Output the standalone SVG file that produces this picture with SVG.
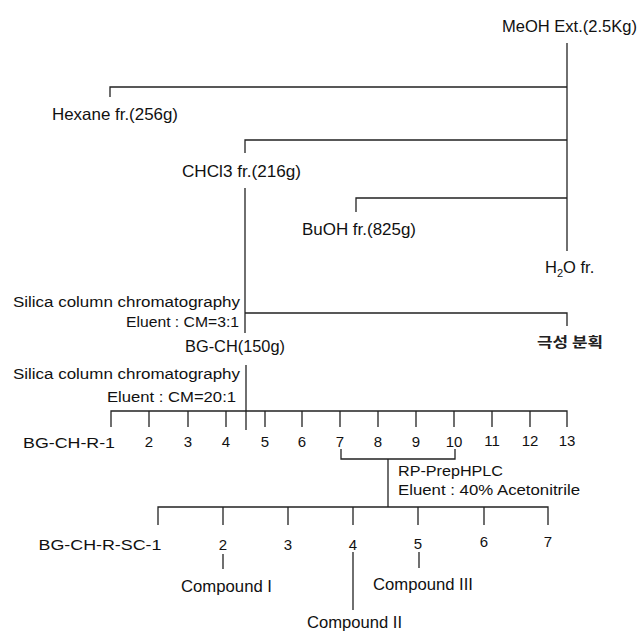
<svg xmlns="http://www.w3.org/2000/svg" width="639" height="635" viewBox="0 0 639 635">
<style>
  .t { font-family: "Liberation Sans", Arial, sans-serif; fill: #111; }
  .l { font-size: 16.5px; }
  .m { font-size: 14px; }
  .n { font-size: 15px; text-anchor: middle; }
  .k { font-family: "Noto Sans CJK KR", sans-serif; font-size: 14px; font-weight: bold; fill: #222; }
  .c { fill: none; stroke: #222; stroke-width: 1.3; }
</style>
<rect width="639" height="635" fill="#fff"/>
<g id="connectors" class="c">
  <path d="M567,43 V251"/>
  <path d="M110,97 V87 H567"/>
  <path d="M245,153 V140 H567"/>
  <path d="M245,188 V333"/>
  <path d="M356,212 V198 H567"/>
  <path d="M245,313 H567 V326"/>
  <path d="M246,365 V430"/>
  <path d="M111,427 V411 H567 V427"/>
  <path d="M149,411 V427 M188,411 V427 M226,411 V427 M265,411 V427 M302,411 V427 M340,411 V427 M378,411 V427 M416,411 V427 M454,411 V427 M492,411 V427 M530,411 V427"/>
  <path d="M341,449 V459 H455 V449"/>
  <path d="M388,459 V507"/>
  <path d="M158,525 V507 H548 V525"/>
  <path d="M223,507 V525 M288,507 V525 M353,507 V525 M418,507 V525 M484,507 V525"/>
  <path d="M223,554 V569"/>
  <path d="M353,552 V610"/>
  <path d="M419,552 V568"/>
</g>
<g id="meoh"><text class="t l" x="502" y="32" textLength="135" lengthAdjust="spacingAndGlyphs">MeOH Ext.(2.5Kg)</text></g>
<g id="hexane"><text class="t l" x="52" y="120" textLength="126" lengthAdjust="spacingAndGlyphs">Hexane fr.(256g)</text></g>
<g id="chcl3"><text class="t l" x="182" y="177" textLength="119" lengthAdjust="spacingAndGlyphs">CHCl3 fr.(216g)</text></g>
<g id="buoh"><text class="t l" x="302" y="235" textLength="114" lengthAdjust="spacingAndGlyphs">BuOH fr.(825g)</text></g>
<g id="h2o"><text class="t l" x="545" y="273">H<tspan font-size="11" dy="4">2</tspan><tspan dy="-4">O fr.</tspan></text></g>
<g id="silica1">
  <text class="t m" x="13" y="307" textLength="227" lengthAdjust="spacingAndGlyphs">Silica column chromatography</text>
  <text class="t m" x="126" y="327" textLength="113" lengthAdjust="spacingAndGlyphs">Eluent : CM=3:1</text>
</g>
<g id="bgch"><text class="t l" x="185" y="352" textLength="100" lengthAdjust="spacingAndGlyphs">BG-CH(150g)</text></g>
<g id="polar"><text class="k" x="537" y="347" textLength="66" lengthAdjust="spacingAndGlyphs">극성 분획</text></g>
<g id="silica2">
  <text class="t m" x="13" y="379" textLength="227" lengthAdjust="spacingAndGlyphs">Silica column chromatography</text>
  <text class="t m" x="107" y="402" textLength="129" lengthAdjust="spacingAndGlyphs">Eluent : CM=20:1</text>
</g>
<g id="bgchr">
  <text class="t n" x="69" y="448" textLength="92" lengthAdjust="spacingAndGlyphs">BG-CH-R-1</text>
  <text class="t n" x="149" y="447">2</text>
  <text class="t n" x="188" y="447">3</text>
  <text class="t n" x="226" y="447">4</text>
  <text class="t n" x="265" y="447">5</text>
  <text class="t n" x="302" y="447">6</text>
  <text class="t n" x="340" y="447">7</text>
  <text class="t n" x="378" y="447">8</text>
  <text class="t n" x="416" y="447">9</text>
  <text class="t n" x="454" y="447">10</text>
  <text class="t n" x="492" y="446">11</text>
  <text class="t n" x="530" y="446">12</text>
  <text class="t n" x="567" y="446">13</text>
</g>
<g id="rphplc">
  <text class="t m" x="398" y="476" textLength="105" lengthAdjust="spacingAndGlyphs">RP-PrepHPLC</text>
  <text class="t m" x="398" y="495" textLength="182" lengthAdjust="spacingAndGlyphs">Eluent : 40% Acetonitrile</text>
</g>
<g id="bgchrsc">
  <text class="t n" x="100" y="550" textLength="123" lengthAdjust="spacingAndGlyphs">BG-CH-R-SC-1</text>
  <text class="t n" x="223" y="550">2</text>
  <text class="t n" x="288" y="550">3</text>
  <text class="t n" x="353" y="550">4</text>
  <text class="t n" x="418" y="549">5</text>
  <text class="t n" x="484" y="547">6</text>
  <text class="t n" x="548" y="547">7</text>
</g>
<g id="compound1"><text class="t l" x="181" y="592" textLength="91" lengthAdjust="spacingAndGlyphs">Compound I</text></g>
<g id="compound3"><text class="t l" x="373" y="590" textLength="100" lengthAdjust="spacingAndGlyphs">Compound III</text></g>
<g id="compound2"><text class="t l" x="307" y="628" textLength="95" lengthAdjust="spacingAndGlyphs">Compound II</text></g>
</svg>
